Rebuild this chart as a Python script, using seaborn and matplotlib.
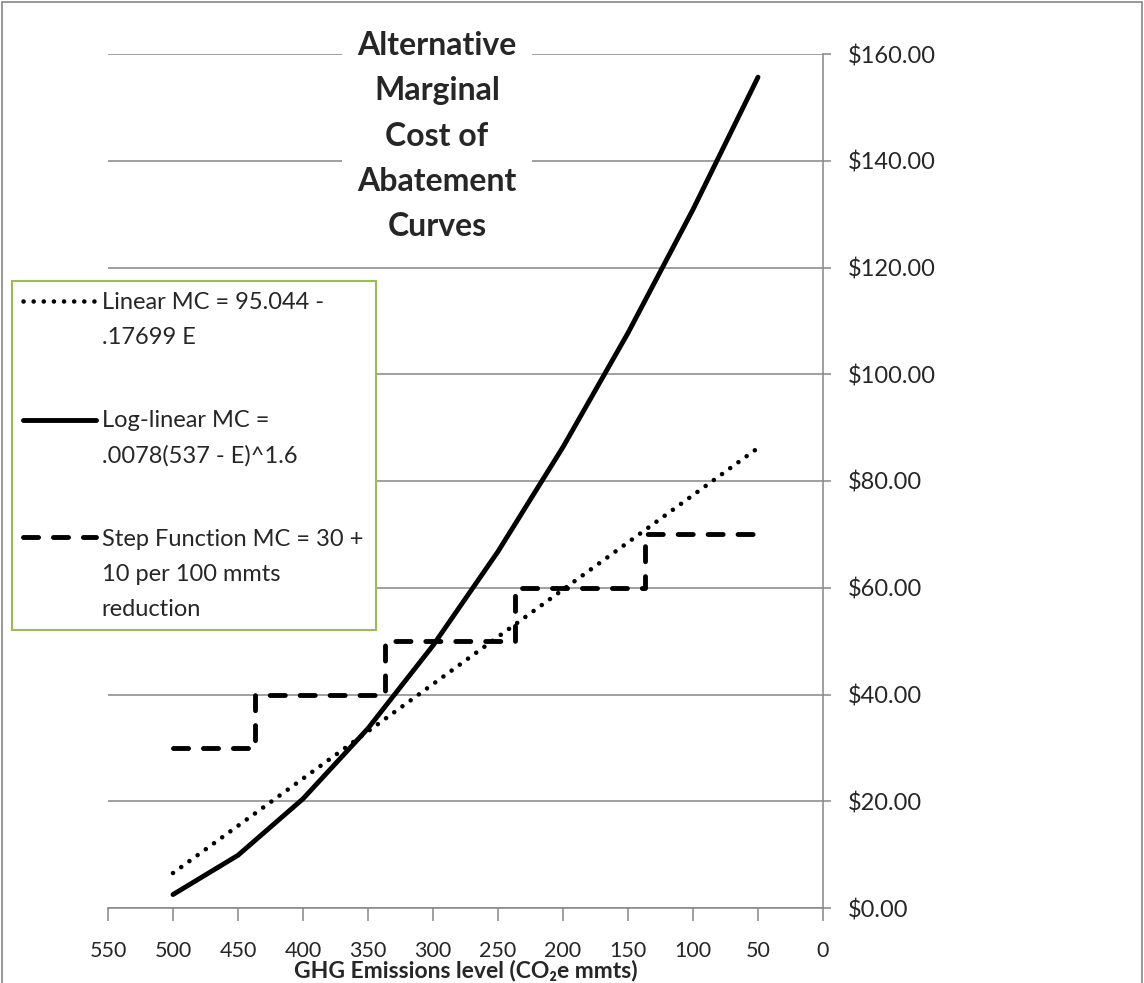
import seaborn as sns
import matplotlib.pyplot as plt
import pandas as pd
from matplotlib.legend_handler import HandlerLine2D
from matplotlib.patches import Rectangle

# values
emissions = [500, 450, 400, 350, 300, 250, 200, 150, 100, 50]
linear_mc = [6.55, 15.40, 24.25, 33.10, 41.95, 50.80, 59.65, 68.50, 77.35, 86.19]
loglinear_mc = [2.52, 9.88, 20.46, 33.65, 49.18, 66.79, 86.36, 107.74, 130.87, 155.66]

step_emissions = [500, 437, 437, 337, 337, 237, 237, 137, 137, 50]
step_mc = [30, 30, 40, 40, 50, 50, 60, 60, 70, 70]

x_ticks = [550, 500, 450, 400, 350, 300, 250, 200, 150, 100, 50, 0]
y_ticks = [0, 20, 40, 60, 80, 100, 120, 140, 160]

legend_labels = [
    "Linear MC = 95.044 -\n.17699 E",
    "Log-linear MC =\n.0078(537 - E)^1.6",
    "Step Function MC = 30 +\n10 per 100 mmts\nreduction",
]
title = "Alternative\nMarginal\nCost of\nAbatement\nCurves"
x_label = "GHG Emissions level (CO\u2082e mmts)"

curves = pd.DataFrame({'E': emissions, 'Linear': linear_mc, 'LogLinear': loglinear_mc})
steps = pd.DataFrame({'E': step_emissions, 'MC': step_mc})

sns.set_style('white')
plt.rcParams['font.family'] = ['Lato', 'DejaVu Sans']

GRAY = '#868686'

fig = plt.figure(figsize=(11.44, 9.83), dpi=100)
ax = fig.add_axes([108 / 1144, 75 / 983, 715 / 1144, 854 / 983])

sns.lineplot(data=curves, x='E', y='Linear', ax=ax, color='black', lw=3.3,
             linestyle=(0, (0.01, 2.2)), dash_capstyle='round', sort=False, estimator=None)
sns.lineplot(data=curves, x='E', y='LogLinear', ax=ax, color='black', lw=3.5,
             solid_capstyle='round', sort=False, estimator=None)
sns.lineplot(data=steps, x='E', y='MC', ax=ax, color='black', lw=3.5,
             linestyle=(0, (3.1, 3.06)), dash_capstyle='round', sort=False, estimator=None)

ax.set_xlim(550, 0)
ax.set_ylim(0, 160)
ax.set_xticks(x_ticks)
ax.set_xticklabels([str(v) for v in x_ticks], fontsize=15.5)
ax.yaxis.tick_right()
ax.set_yticks(y_ticks)
ax.set_yticklabels([f'${v:.2f}' for v in y_ticks], fontsize=17)
ax.set_ylabel('')
ax.set_xlabel(x_label, fontsize=16.5, fontweight='bold')
ax.xaxis.set_label_coords(0.5, -0.0812)
ax.xaxis.label.set_verticalalignment('baseline')

ax.grid(axis='y', color=GRAY, lw=1.1)
ax.grid(axis='x', visible=False)
ax.set_axisbelow(True)
for side in ['top', 'left']:
    ax.spines[side].set_visible(False)
for side in ['right', 'bottom']:
    ax.spines[side].set_color(GRAY)
    ax.spines[side].set_linewidth(1.1)
ax.tick_params(axis='x', direction='out', length=9, width=1.1, color=GRAY, pad=15, bottom=True)
ax.tick_params(axis='y', direction='out', length=6, width=1.1, color=GRAY, pad=12, right=True, left=False)


# put the legend line next to the first line of a wrapped label
class FirstLineHandler(HandlerLine2D):
    def __init__(self, nlines, step=26.6, **kw):
        super().__init__(**kw)
        self.lift = (nlines - 1) * step / 2

    def create_artists(self, legend, orig_handle, xdescent, ydescent, width, height, fontsize, trans):
        return super().create_artists(legend, orig_handle, xdescent, ydescent, width,
                                      height + 2 * self.lift, fontsize, trans)


handles = ax.lines[:3]
hmap = {h: FirstLineHandler(lab.count('\n') + 1) for h, lab in zip(handles, legend_labels)}
leg = ax.legend(handles, legend_labels, loc='upper left',
                bbox_to_anchor=(12 / 1144, 0, 364 / 1144, 1 - 281 / 983),
                bbox_transform=fig.transFigure, mode='expand', borderaxespad=0,
                fancybox=False, frameon=True, edgecolor='#9BBB59', framealpha=1,
                fontsize=17, borderpad=0.45, handlelength=3.1, handletextpad=0.25,
                labelspacing=2.62, handler_map=hmap)
leg.get_frame().set_linewidth(1.5)
for t in leg.get_texts():
    t.set_linespacing(1.83)

fig.text(437 / 1144, 1 - 31 / 983, title, ha='center', va='top', fontsize=23,
         fontweight='bold', linespacing=1.68,
         bbox=dict(facecolor='white', edgecolor='none', pad=11))

# outer chart border
fig.patches.append(Rectangle((0.002, -0.01), 0.996, 1.008, transform=fig.transFigure,
                             fill=False, edgecolor=GRAY, lw=1.2))

fig.savefig('out.png', dpi=100)
